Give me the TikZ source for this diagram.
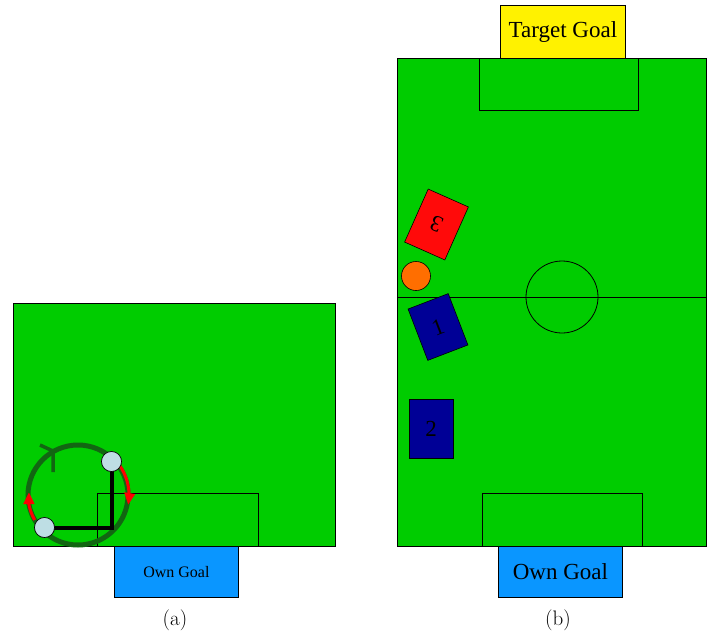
\documentclass[tikz,border=0pt]{standalone}
\usepackage{fontspec}
\newfontfamily\timesf{Liberation Serif}
\definecolor{field}{RGB}{0,204,0}
\definecolor{dgreen}{RGB}{18,102,18}
\definecolor{goalblue}{RGB}{10,150,255}
\definecolor{robred}{RGB}{255,10,10}
\definecolor{robblue}{RGB}{0,0,150}
\definecolor{ballor}{RGB}{255,110,0}
\definecolor{lblue}{RGB}{190,222,228}
\begin{document}
\begin{tikzpicture}[x=1pt,y=-1pt,
  fieldbox/.style={draw=black,line width=0.8pt,fill=field},
  markline/.style={draw=black,line width=0.8pt},
  goalbox/.style={draw=black,line width=0.8pt,inner sep=0pt,anchor=north west},
  robot/.style={draw=black,line width=0.6pt,inner sep=0pt,font=\timesf\fontsize{23}{27}\selectfont},
  bigtxt/.style={font=\timesf\fontsize{23}{27}\selectfont},
  pathline/.style={line width=4pt,black},
  turnarc/.style={red,line width=3pt},
  turntip/.style={fill=red},
  agent/.style={circle,draw=black,line width=0.6pt,fill=lblue,minimum size=20pt,inner sep=0pt}]
\useasboundingbox (0,0) rectangle (707,635);
% ---------- (a) ----------
\draw[fieldbox] (13,303) rectangle (335,546);
\draw[markline] (97,546) -- (97,493) -- (258,493) -- (258,546);
\node[goalbox,fill=goalblue,minimum width=124pt,minimum height=51pt,
  font=\timesf\fontsize{16}{19}\selectfont] (owna) at (114,546) {Own Goal};
\node[font=\fontsize{21}{25}\selectfont] (capa) at (175,620) {(a)};
\coordinate (c) at (78,495);
\draw[dgreen,line width=5pt] (c) circle[radius=50];
\draw[dgreen,line width=3.5pt] (40,445) -- (53,451) -- (53,472);
\node[agent] (p1) at (111.5,461.5) {};
\node[agent] (p2) at (44.5,527.5) {};
\coordinate (k) at (111.5,527.5);
\draw[turnarc] (c) ++(-36:51) arc[start angle=-36,end angle=-1,radius=51];
\fill[turntip] (124.1,492.3) -- (135.3,494.1) -- (128.2,504.5) -- cycle;
\draw[turnarc] (c) ++(150:50) arc[start angle=150,end angle=171,radius=50];
\fill[turntip] (23.2,504) -- (34.6,504) -- (29,492.5) -- cycle;
\draw[pathline] (p1.center) -- (k) -- (p2.center);
\node[agent] at (p1) {};
\node[agent] at (p2) {};
% ---------- (b) ----------
\draw[fieldbox] (397,58) rectangle (706,546);
\draw[markline] (479,58) -- (479,110) -- (638,110) -- (638,58);
\draw[markline] (482,546) -- (482,493) -- (642,493) -- (642,546);
\draw[markline] (397,297) -- (706,297);
\draw[markline] (562,297) circle[radius=36];
\node[goalbox,fill=yellow,minimum width=125pt,minimum height=53pt,bigtxt] (tgoal) at (500,5) {Target Goal};
\node[goalbox,fill=goalblue,minimum width=124pt,minimum height=51pt,bigtxt] (ownb) at (498,546) {Own Goal};
\node[font=\fontsize{21}{25}\selectfont] (capb) at (558,620) {(b)};
\node[robot,fill=robred,minimum width=44pt,minimum height=58pt,rotate=-24] (r3) at (436.5,224.5) {};
\node[robot,draw=none,rotate=156] at (r3) {3};
\node[circle,draw=black,line width=0.6pt,fill=ballor,minimum size=29pt,inner sep=0pt] (ball) at (416,276) {};
\node[robot,fill=robblue,minimum width=43pt,minimum height=55pt,rotate=21] (r1) at (438,327) {};
\node[robot,draw=none,rotate=21] at (r1) {1};
\node[robot,fill=robblue,minimum width=44pt,minimum height=59pt] (r2) at (431,429) {2};
\end{tikzpicture}
\end{document}
